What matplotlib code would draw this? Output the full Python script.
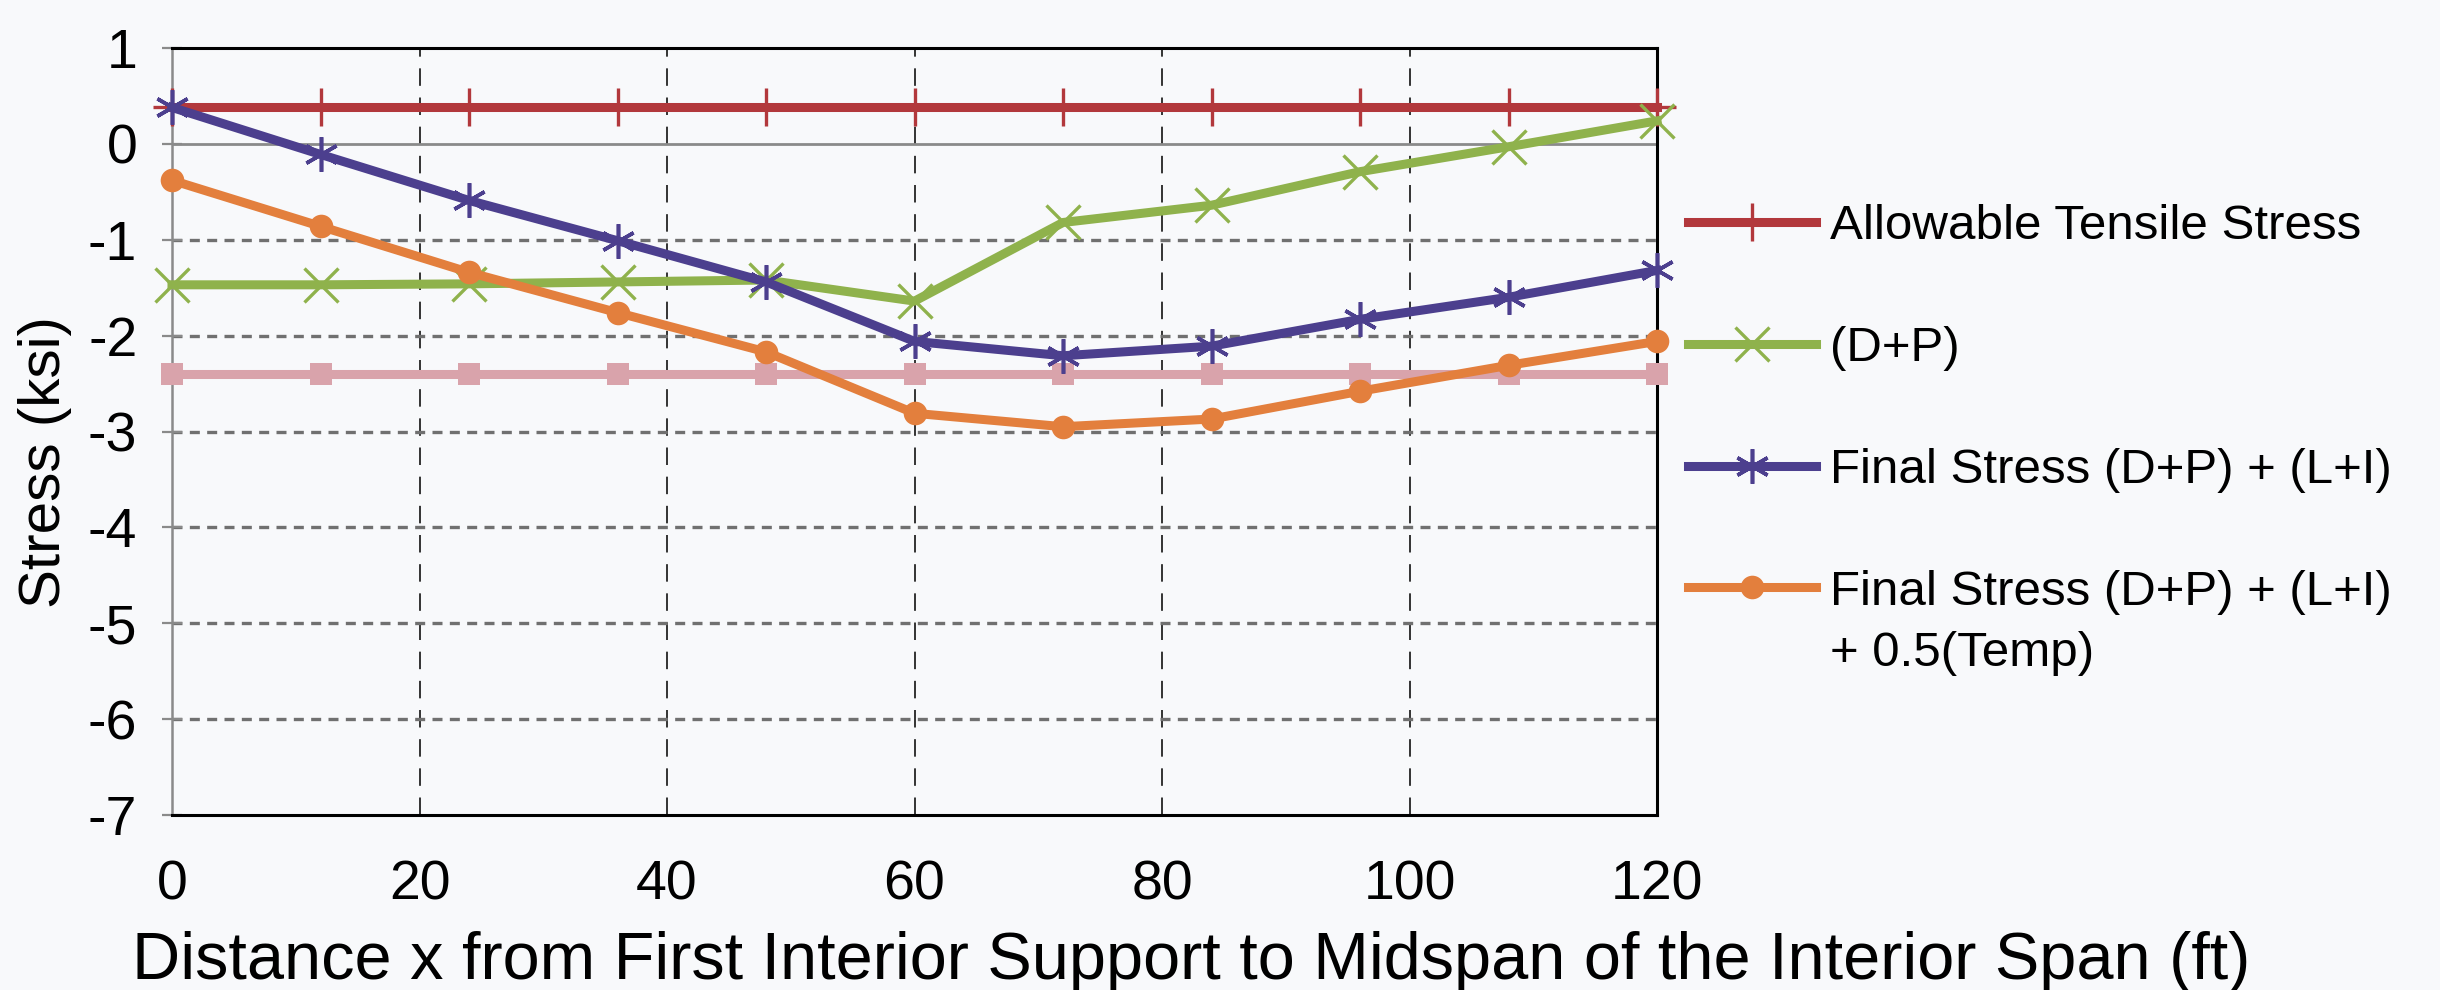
import matplotlib

matplotlib.use("Agg")

import matplotlib.pyplot as plt

plt.rcParams["font.family"] = ["Liberation Sans", "DejaVu Sans"]
plt.rcParams["axes.unicode_minus"] = False

# distance from first interior support (ft)
distance_ft = [0, 12, 24, 36, 48, 60, 72, 84, 96, 108, 120]

# stresses (ksi)
allowable_tension = [0.38, 0.38, 0.38, 0.38, 0.38, 0.38, 0.38, 0.38, 0.38, 0.38, 0.38]
allowable_compression = [-2.4, -2.4, -2.4, -2.4, -2.4, -2.4, -2.4, -2.4, -2.4, -2.4, -2.4]
stress_dp = [-1.47, -1.47, -1.46, -1.44, -1.42, -1.64, -0.82, -0.64, -0.29, -0.03, 0.24]
stress_dp_li = [0.38, -0.11, -0.59, -1.01, -1.44, -2.06, -2.21, -2.11, -1.83, -1.60, -1.32]
stress_dp_li_temp = [-0.38, -0.86, -1.34, -1.76, -2.17, -2.81, -2.95, -2.87, -2.58, -2.31, -2.06]

x_ticks = [0, 20, 40, 60, 80, 100, 120]
y_ticks = [1, 0, -1, -2, -3, -4, -5, -6, -7]

W, H = 2440, 990
bg = "#f8f9fb"

fig = plt.figure(figsize=(W / 100, H / 100), dpi=100, facecolor=bg)
ax = fig.add_axes([172 / W, 1 - 815 / H, (1657 - 172) / W, (815 - 48) / H])
ax.set_facecolor(bg)

lw = 6.5
ax.plot(distance_ft, allowable_compression, color="#d9a3ab", lw=lw, marker="s",
        markersize=16, markeredgewidth=0, zorder=3, clip_on=False)
ax.plot(distance_ft, allowable_tension, color="#b2383c", lw=lw, marker="+",
        markersize=27, markeredgewidth=2.4, zorder=4, clip_on=False,
        label="Allowable Tensile Stress")
ax.plot(distance_ft, stress_dp, color="#8fb24c", lw=lw, marker="x",
        markersize=24, markeredgewidth=2.4, zorder=5, clip_on=False,
        label="(D+P)")
ax.plot(distance_ft, stress_dp_li, color="#4c3f8e", lw=lw, marker=(6, 2, 0),
        markersize=25, markeredgewidth=2.6, zorder=6, clip_on=False,
        label="Final Stress (D+P) + (L+I)")
ax.plot(distance_ft, stress_dp_li_temp, color="#e37f3d", lw=lw, marker="o",
        markersize=17, markeredgewidth=0, zorder=7, clip_on=False,
        label="Final Stress (D+P) + (L+I)")

ax.set_xlim(0, 120)
ax.set_ylim(-7, 1)
ax.set_xticks(x_ticks)
ax.set_yticks(y_ticks)

# grid: long black dashes vertically, short grey dashes horizontally
for xv in x_ticks[1:-1]:
    ax.axvline(xv, color="#333333", lw=1.4, linestyle=(0, (9, 6)), zorder=1)
for yv in y_ticks[2:-1]:
    ax.axhline(yv, color="#707070", lw=2.4, linestyle=(0, (3, 2.2)), zorder=1)
ax.axhline(0, color="#8a8a8a", lw=2.0, zorder=1)

for side in ["top", "bottom", "right"]:
    ax.spines[side].set_color("black")
    ax.spines[side].set_linewidth(2.2)
ax.spines["left"].set_color("#8a8a8a")
ax.spines["left"].set_linewidth(1.8)

ax.tick_params(axis="y", direction="inout", length=14, width=1.6, color="#8a8a8a",
               labelsize=40, pad=18)
ax.tick_params(axis="x", length=0, labelsize=40, pad=32)

ax.set_ylabel("Stress (ksi)", fontsize=42)
ax.yaxis.set_label_coords(-0.0673, 0.46)

fig.text(132 / W, 1 - 979 / H, "Distance x from First Interior Support to Midspan of the Interior Span (ft)",
         fontsize=48, ha="left", va="baseline")

leg = ax.legend(loc="upper left", bbox_to_anchor=(1688 / W, 1 - 204 / H),
                bbox_transform=fig.transFigure, frameon=False, fontsize=35.5,
                handlelength=2.6, handletextpad=0.28, labelspacing=1.56,
                borderpad=0, borderaxespad=0)

# second line of the last legend label, placed under its first line
fig.canvas.draw()
renderer = fig.canvas.get_renderer()
ext = leg.get_texts()[-1].get_window_extent(renderer)
fig.text(ext.x0 / W, ((ext.y0 + ext.y1) / 2 - 61) / H, "+ 0.5(Temp)",
         fontsize=35.5, ha="left", va="center")

fig.savefig("out.png", dpi=100, facecolor=bg)
